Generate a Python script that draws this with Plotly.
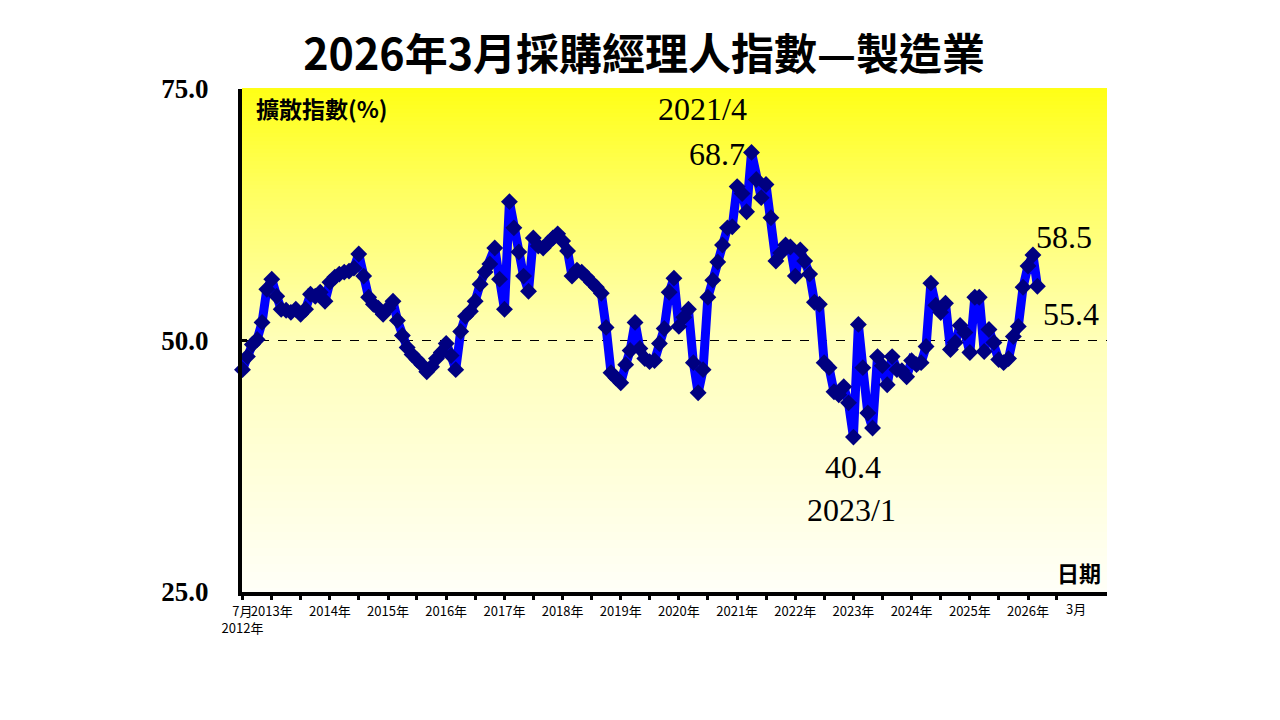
import pandas as pd
import plotly.graph_objects as go

# 台灣製造業 PMI，2012年7月起逐月
pmi_2012 = [47.1, 48.4, 49.6, 50.1, 51.8, 55.1]
pmi_2013 = [56.1, 54.4, 53.1, 53.0, 52.8, 53.1, 52.6, 53.1, 54.6, 54.4, 54.8, 53.9]
pmi_2014 = [55.8, 56.3, 56.6, 56.8, 56.9, 57.2, 58.6, 56.4, 54.3, 53.6, 53.2, 52.6]
pmi_2015 = [53.2, 53.9, 52.0, 50.5, 49.3, 48.6, 48.1, 47.6, 46.9, 47.4, 48.2, 48.8]
pmi_2016 = [49.7, 48.5, 47.1, 50.9, 52.4, 52.9, 53.9, 55.6, 56.8, 57.6, 59.2, 56.1]
pmi_2017 = [53.1, 63.8, 61.2, 58.8, 56.4, 54.9, 60.2, 59.4, 59.2, 59.7, 60.2, 60.6]
pmi_2018 = [59.9, 58.9, 56.4, 57.0, 56.8, 56.3, 55.8, 55.3, 54.7, 51.3, 46.8, 46.3]
pmi_2019 = [45.8, 47.6, 49.0, 51.8, 49.2, 48.2, 47.9, 48.0, 49.7, 51.2, 54.8, 56.2]
pmi_2020 = [51.4, 52.3, 53.1, 47.8, 44.8, 47.1, 54.3, 56.0, 57.8, 59.5, 61.2, 61.3]
pmi_2021 = [65.3, 64.6, 62.8, 68.7, 66.0, 64.2, 65.5, 62.2, 57.9, 58.7, 59.5, 59.3]
pmi_2022 = [56.4, 59.0, 57.9, 56.6, 53.8, 53.6, 47.8, 47.3, 44.9, 44.6, 45.4, 43.8]
pmi_2023 = [40.4, 51.6, 47.3, 42.8, 41.3, 48.4, 47.5, 45.6, 48.4, 47.1, 47.0, 46.4]
pmi_2024 = [48.0, 47.6, 47.8, 49.4, 55.7, 53.5, 52.8, 53.7, 49.1, 49.8, 51.5, 50.8]
pmi_2025 = [48.8, 54.3, 54.3, 48.9, 51.1, 49.8, 48.1, 47.8, 48.2, 50.4, 51.4, 55.3]
pmi_2026 = [57.4, 58.5, 55.4]

years = list(range(2013, 2027))
y_ticks = [25.0, 50.0, 75.0]

pmi = (pmi_2012 + pmi_2013 + pmi_2014 + pmi_2015 + pmi_2016 + pmi_2017 + pmi_2018
       + pmi_2019 + pmi_2020 + pmi_2021 + pmi_2022 + pmi_2023 + pmi_2024 + pmi_2025 + pmi_2026)
dates = pd.date_range("2012-07-01", periods=len(pmi), freq="MS")
s = pd.Series(pmi, index=dates)

fig = go.Figure()

# yellow -> white gradient background, drawn as thin bands
stops = [(0.0, 248), (0.5, 185), (0.8, 95), (1.0, 22)]
def blue_at(f):
    for (f0, b0), (f1, b1) in zip(stops[:-1], stops[1:]):
        if f <= f1:
            return b0 + (b1 - b0) * (f - f0) / (f1 - f0)
    return stops[-1][1]

nb = 126
for k in range(nb):
    f = (k + 0.5) / nb
    fig.add_shape(type="rect", xref="paper", yref="paper", x0=0, x1=1,
                  y0=k / nb, y1=(k + 1) / nb + 0.002, line_width=0,
                  fillcolor="rgb(255,255,%d)" % round(blue_at(f)), layer="below")

fig.add_shape(type="line", xref="paper", yref="y", x0=0, x1=1, y0=50, y1=50,
              line=dict(color="black", width=1, dash="dash"), layer="below")

fig.add_trace(go.Scatter(x=s.index, y=s.values, mode="lines+markers",
                         line=dict(color="#0000FF", width=9),
                         marker=dict(symbol="diamond", size=13, color="#000080"),
                         cliponaxis=False, showlegend=False))

serif = "Liberation Serif, Times New Roman, serif"
cjk = "Noto Sans CJK TC, Microsoft JhengHei, sans-serif"

d_max, d_min = s.idxmax(), s.idxmin()
notes = [
    (d_max, s[d_max], f"{d_max.year}/{d_max.month}", -49, 43),
    (d_max, s[d_max], f"{s[d_max]:.1f}", -35, -2),
    (d_min, s[d_min], f"{s[d_min]:.1f}", 0, -30),
    (d_min, s[d_min], f"{d_min.year}/{d_min.month}", -2, -73),
    (s.index[-2], s.iloc[-2], f"{s.iloc[-2]:.1f}", 31, 18),
    (s.index[-1], s.iloc[-1], f"{s.iloc[-1]:.1f}", 34, -28),
]
for xd, yv, txt, dx, dy in notes:
    fig.add_annotation(x=xd, y=yv, text=txt, showarrow=False, xshift=dx, yshift=dy,
                       font=dict(family=serif, size=32, color="black"))

fig.add_annotation(x=0.014, y=0.962, xref="paper", yref="paper", xanchor="left", yanchor="middle",
                   text="<b>擴散指數(%)</b>", showarrow=False,
                   font=dict(family=cjk, size=23, color="black"))
fig.add_annotation(x=0.995, y=0.04, xref="paper", yref="paper", xanchor="right", yanchor="middle",
                   text="<b>日期</b>", showarrow=False,
                   font=dict(family=cjk, size=22, color="black"))
fig.add_annotation(x=0.964, y=-0.032, xref="paper", yref="paper", xanchor="center", yanchor="middle",
                   text="3月", showarrow=False, font=dict(family=cjk, size=13, color="black"))

tick_vals = ["2012-07-01"]
tick_text = ["7月<br>2012年"]
for yr in years:
    tick_vals += ["%d-01-01" % yr, "%d-07-01" % yr]
    tick_text += ["%d年" % yr, ""]

# the page adds an 8px body margin, so everything is placed 8px up/left
fig.update_layout(
    width=1280, height=720,
    margin=dict(l=234, r=181, t=81, b=136),
    paper_bgcolor="white", plot_bgcolor="white",
    title=dict(text="<b>2026年3月採購經理人指數—製造業</b>", x=0.497, xref="container",
               y=1 - 47 / 720, yanchor="middle",
               font=dict(family=cjk, size=43, color="black")),
    xaxis=dict(range=["2012-06-28", "2027-05-12"], tickvals=tick_vals, ticktext=tick_text,
               tickangle=0,
               showgrid=False, zeroline=False, showline=True, linecolor="black", linewidth=4,
               ticks="outside", ticklen=4, tickwidth=3, tickcolor="black",
               tickfont=dict(family=cjk, size=13, color="black")),
    yaxis=dict(range=[25, 75], tickvals=y_ticks, ticktext=["<b>%.1f</b>" % v for v in y_ticks],
               showgrid=False, zeroline=False, showline=True, linecolor="black", linewidth=4,
               ticks="inside", ticklen=5, tickwidth=3, tickcolor="black", ticklabelstandoff=24,
               tickfont=dict(family=serif, size=27, color="black")),
)

fig.write_html("out.html")
